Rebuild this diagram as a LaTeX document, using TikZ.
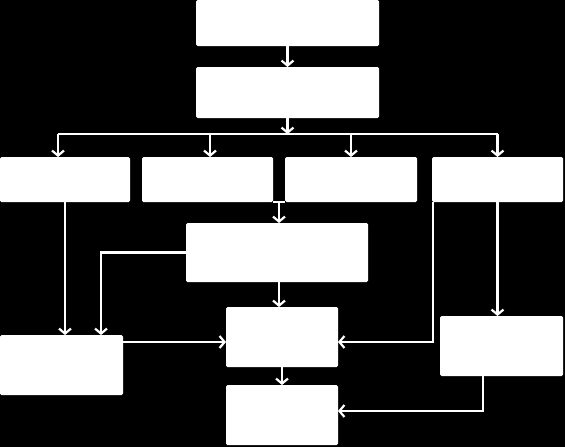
\documentclass[tikz,border=0pt]{standalone}
\usetikzlibrary{positioning,calc,arrows.meta}

\begin{document}
\begin{tikzpicture}[
    box/.style={rectangle,fill=white,rounded corners=1.5pt,inner sep=0pt,outer sep=0pt},
    link/.style={draw=white,line width=2.2pt},
    flow/.style={link,-{Straight Barb[length=5pt,width=12pt,line width=2.2pt]}}]
    % black page
    \fill[black] (0,0) rectangle (565pt,-447pt);
    \useasboundingbox (0,0) rectangle (565pt,-447pt);

    \node[box,minimum width=183pt,minimum height=46pt] (A) at (287.5pt,-23pt) {};
    \node[box,minimum width=183pt,minimum height=51pt] (B) [below=21pt of A] {};
    \node[box,minimum width=130pt,minimum height=45pt] (C1) at (65pt,-179.5pt) {};
    \node[box,minimum width=131pt,minimum height=45pt] (C2) [right=12pt of C1] {};
    \node[box,minimum width=132pt,minimum height=45pt] (C3) [right=12pt of C2] {};
    \node[box,minimum width=131pt,minimum height=45pt] (C4) [right=15pt of C3] {};
    \node[box,minimum width=182pt,minimum height=59pt] (D) at (277pt,-252.5pt) {};
    \node[box,minimum width=123pt,minimum height=60pt] (E) at (61.5pt,-365pt) {};
    \node[box,minimum width=112pt,minimum height=60pt] (F) at (282pt,-337pt) {};
    \node[box,minimum width=112pt,minimum height=60pt] (G) [below=18pt of F] {};
    \node[box,minimum width=123pt,minimum height=60pt] (H) at (501.5pt,-346pt) {};

    % bus under B
    \coordinate (bus) at ($(B.south)+(0,-16pt)$);
    \coordinate (m) at ($(C2.south east)!0.5!(C3.south west)$);

    \draw[flow] (A) -- (B);
    \draw[flow] (B) -- (bus);
    \draw[link] ([xshift=-7pt]C1.north |- bus) -- (bus -| C4.north);
    \draw[flow] ([xshift=-7pt]C1.north |- bus) -- ([xshift=-7pt]C1.north);
    \draw[flow] ([xshift=2.5pt]C2.north |- bus) -- ([xshift=2.5pt]C2.north);
    \draw[flow] (bus -| C3.north) -- (C3);
    \draw[flow] (bus -| C4.north) -- (C4);

    \draw[link] (C2.south east) -- (C3.south west);
    \draw[flow] (m) -- (m |- D.north);
    \draw[flow] (C1.south) -- (C1.south |- E.north);
    \draw[flow] (D.west) -| ([xshift=39.5pt]E.north);
    \draw[flow] ([yshift=23pt]E.east) -- ([yshift=23pt]E.east -| F.west);
    \draw[flow] (m |- D.south) -- (m |- F.north);
    \draw[flow] (F) -- (G);
    \draw[flow] ([xshift=1pt]C4.south west) |- ([yshift=-5pt]F.east);
    \draw[flow] (C4.south) -- (C4.south |- H.north);
    \draw[flow] ([xshift=-18.5pt]H.south) |- ([yshift=4pt]G.east);
  \end{tikzpicture}
\end{document}
